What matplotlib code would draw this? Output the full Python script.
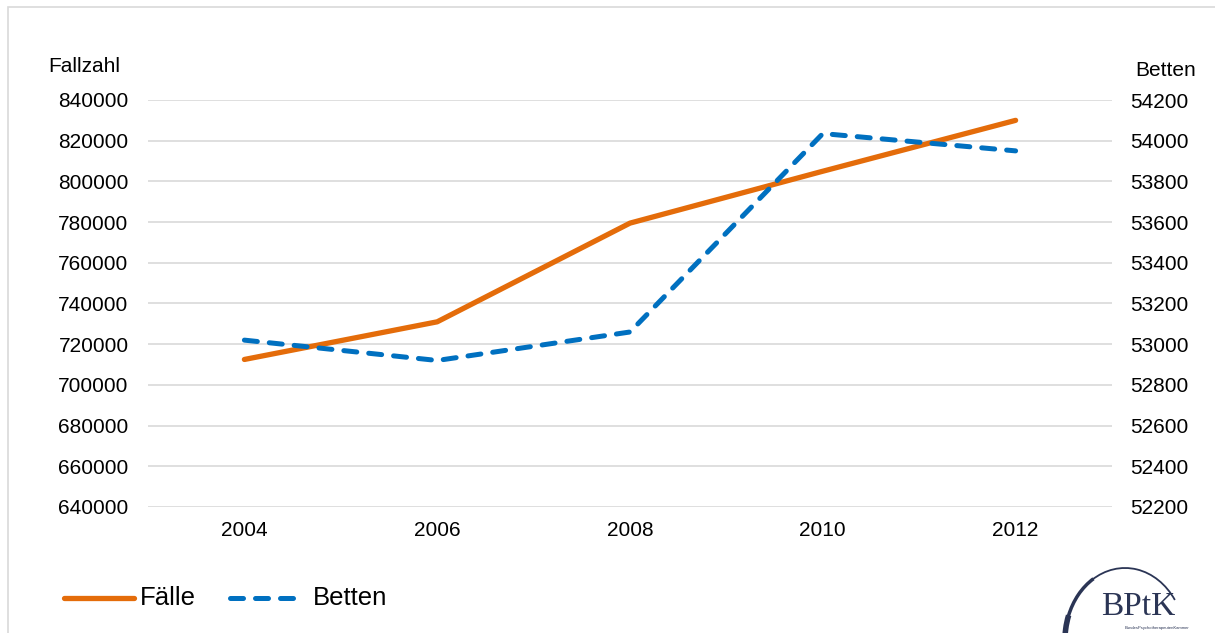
import matplotlib.pyplot as plt
from matplotlib.patches import Rectangle, Arc
from matplotlib.lines import Line2D

plt.rcParams['font.family'] = ['Liberation Sans', 'DejaVu Sans']

# Daten
jahre = ['2004', '2006', '2008', '2010', '2012']
faelle = [712500, 731000, 779500, 805000, 830000]
betten = [53020, 52920, 53060, 54035, 53950]

links_ticks = list(range(640000, 840001, 20000))
rechts_ticks = list(range(52200, 54201, 200))

orange = '#E46C0A'
blau = '#0070C0'
grau = '#D9D9D9'

W, H = 1215, 633
fig = plt.figure(figsize=(W / 100, H / 100), dpi=100)
ax = fig.add_axes([148 / W, 1 - 507 / H, (1112 - 148) / W, (507 - 100) / H])
ax2 = ax.twinx()

x = range(len(jahre))
ax.plot(x, faelle, color=orange, lw=3.8, solid_capstyle='round', zorder=3)
ax2.plot(x, betten, color=blau, lw=3.6, dashes=(2.6, 2.4),
         dash_capstyle='round', zorder=3)

ax.set_xlim(-0.5, 4.5)
ax.set_ylim(640000, 840000)
ax2.set_ylim(52200, 54200)
ax.set_yticks(links_ticks)
ax.set_yticklabels([str(t) for t in links_ticks])
ax2.set_yticks(rechts_ticks)
ax2.set_yticklabels([str(t) for t in rechts_ticks])
ax.set_xticks(list(x))
ax.set_xticklabels(jahre)

ax.grid(axis='y', color=grau, lw=1.2)
ax.set_axisbelow(True)
for a in (ax, ax2):
    for s in a.spines.values():
        s.set_visible(False)
    a.tick_params(length=0, labelsize=15, colors='black')
ax.tick_params(axis='y', pad=14)
ax2.tick_params(axis='y', pad=13)
ax.tick_params(axis='x', pad=10)

fig.text(48 / W, 1 - 66 / H, 'Fallzahl', fontsize=15, va='center', ha='left')
fig.text(1135 / W, 1 - 71 / H, 'Betten', fontsize=15, va='center', ha='left')

# Legende
leg_y = 1 - 598 / H
fig.add_artist(Line2D([64 / W, 134 / W], [leg_y, leg_y], color=orange, lw=3.8,
                      solid_capstyle='round'))
fig.text(140 / W, leg_y, 'Fälle', fontsize=18.5, va='center', ha='left')
fig.add_artist(Line2D([230 / W, 300 / W], [leg_y, leg_y], color=blau, lw=3.6,
                      dashes=(2.6, 2.4), dash_capstyle='round'))
fig.text(313 / W, leg_y, 'Betten', fontsize=18.5, va='center', ha='left')

# Rahmen
fig.add_artist(Rectangle((8 / W, -0.05), 1.1, 1 - 7 / H + 0.05,
                         transform=fig.transFigure, fill=False,
                         edgecolor='#D9D9D9', lw=1.2))

# Logo
navy = '#2B3555'
mitte = (1125 / W, 1 - 640 / H)
fig.add_artist(Arc(mitte, 120 / W, 144 / H, theta1=140, theta2=185,
                   transform=fig.transFigure, color=navy, lw=4))
fig.add_artist(Arc(mitte, 120 / W, 144 / H, theta1=105, theta2=141,
                   transform=fig.transFigure, color=navy, lw=2.5))
fig.add_artist(Arc(mitte, 120 / W, 144 / H, theta1=57, theta2=106,
                   transform=fig.transFigure, color=navy, lw=1.3))
fig.text(1101 / W, 1 - 615 / H, 'BPtK', fontsize=24, family='Liberation Serif',
         color=navy, va='baseline', ha='left')
fig.text(1125 / W, 1 - 628 / H, 'BundesPsychotherapeutenKammer', fontsize=3,
         color=navy, va='center', ha='left')

fig.savefig('out.png', dpi=100)
